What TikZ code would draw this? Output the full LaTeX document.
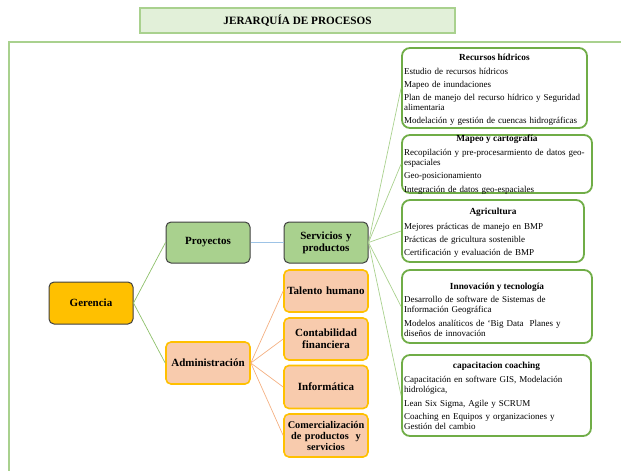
\documentclass[tikz,border=0pt]{standalone}
\usepackage{fontspec}
\setmainfont{Liberation Serif}
\definecolor{gdark}{HTML}{70AD47}
\definecolor{glight}{HTML}{A9D18E}
\definecolor{gpale}{HTML}{E2F0D9}
\definecolor{gold}{HTML}{FFC000}
\definecolor{peach}{HTML}{F8CBAD}
\definecolor{bordgray}{HTML}{404040}
\definecolor{linegreen}{HTML}{8DC06A}
\definecolor{lineorange}{HTML}{F4B183}
\definecolor{lineblue}{HTML}{9DC3E6}
\tikzset{
  lbox/.style={draw=bordgray, line width=1pt, rounded corners=5pt, minimum width=84pt, inner sep=1pt,
    text width=82pt, align=center, font=\fontsize{11}{12}\selectfont\bfseries},
  gbox/.style={lbox, fill=glight},
  obox/.style={lbox, draw=gold, line width=1.6pt, fill=peach},
  rbox/.style={draw=gdark, line width=1.8pt, rounded corners=8pt, fill=white},
  rhead/.style={font=\fontsize{9.3}{10}\selectfont\bfseries, inner sep=0pt},
  rbody/.style={font=\fontsize{9}{10}\selectfont, inner sep=0pt, text width=188pt, align=left, anchor=base west},
  conn/.style={line width=0.7pt}
}
\begin{document}
\begin{tikzpicture}[x=1pt,y=-1pt]
\useasboundingbox (0,0) rectangle (621,471);
% frame
\coordinate (fa) at (9,471);
\coordinate (fb) at (9,42);
\coordinate (fc) at (621,42);
\draw[glight, line width=1.2pt] (fa) -- (fb) -- (fc);
% title
\node[draw=glight, fill=gpale, line width=1.2pt, minimum width=315pt, minimum height=25pt,
  font=\fontsize{11.2}{12}\selectfont\bfseries] (title) at (297.5,20.5) {JERARQUÍA DE PROCESOS};
% left tree
\node[lbox, fill=gold, minimum height=42pt] (ger) at (91,303) {Gerencia};
\node[gbox, minimum height=41pt] (proy) at (208,242.5) {Proyectos};
\node[gbox, minimum height=41pt] (serv) at (326,242.5) {Servicios y\\productos};
\node[obox, minimum height=42pt] (adm) at (208,363) {Administración};
\node[obox, minimum height=42pt] (tal) at (326,291) {Talento humano};
\node[obox, minimum height=42pt] (con) at (326,339) {Contabilidad\\financiera};
\node[obox, minimum height=43pt, font=\fontsize{10.3}{11}\selectfont\bfseries] (inf) at (326,387) {\fontsize{11}{12}\selectfont Informática};
\node[obox, minimum height=43pt, font=\fontsize{10.3}{11}\selectfont\bfseries] (com) at (326,435.5) {Comercialización\\de productos\ \ y\\servicios};
% right boxes
\node[rbox, minimum width=185pt, minimum height=80pt] (r1) at (494.5,88) {};
\node[rbox, minimum width=190pt, minimum height=58pt] (r2) at (497,164) {};
\node[rbox, minimum width=182pt, minimum height=62pt] (r3) at (493,231) {};
\node[rbox, minimum width=190pt, minimum height=73pt] (r4) at (497,306.5) {};
\node[rbox, minimum width=189pt, minimum height=81pt] (r5) at (496.5,395.5) {};
% connectors
\draw[conn, linegreen] (ger.east) -- (proy.west);
\draw[conn, linegreen] (ger.east) -- (adm.west);
\draw[conn, lineblue] (proy.east) -- (serv.west);
\foreach \t in {tal,con,inf,com} \draw[conn, lineorange] (adm.east) -- (\t.west);
\foreach \t in {r1,r2,r3,r4,r5} \draw[conn, glight] (serv.east) -- (\t.west);
% right texts
\node[rhead] (h1) at (494.5,57) {Recursos hídricos};
\node[rbody] (b1) at (404,74) {Estudio de recursos hídricos\\[3pt]
Mapeo de inundaciones\\[3pt]
Plan de manejo del recurso hídrico y Seguridad\\
alimentaria\\[3pt]
Modelación y gestión de cuencas hidrográficas};
\node[rhead] (h2) at (497,139) {Mapeo y cartografía};
\node[rbody] (b2) at (404,155) {Recopilación y pre-procesarmiento de datos geo-\\
espaciales\\[3pt]
Geo-posicionamiento\\[4pt]
Integración de datos geo-espaciales};
\node[rhead] (h3) at (493,212) {Agricultura};
\node[rbody] (b3) at (404,229) {Mejores prácticas de manejo en BMP\\[3pt]
Prácticas de gricultura sostenible\\[3pt]
Certificación y evaluación de BMP};
\node[rhead] (h4) at (497,287) {Innovación y tecnología};
\node[rbody] (b4) at (404,302) {Desarrollo de software de Sistemas de\\
Información Geográfica\\[4pt]
Modelos analíticos de ‘Big Data\ \ Planes y\\
diseños de innovación};
\node[rhead] (h5) at (496.5,366) {capacitacion coaching};
\node[rbody] (b5) at (404,382) {Capacitación en software GIS, Modelación\\
hidrológica,\\[4pt]
Lean Six Sigma, Agile y SCRUM\\[3pt]
Coaching en Equipos y organizaciones y\\
Gestión del cambio};
\end{tikzpicture}
\end{document}
